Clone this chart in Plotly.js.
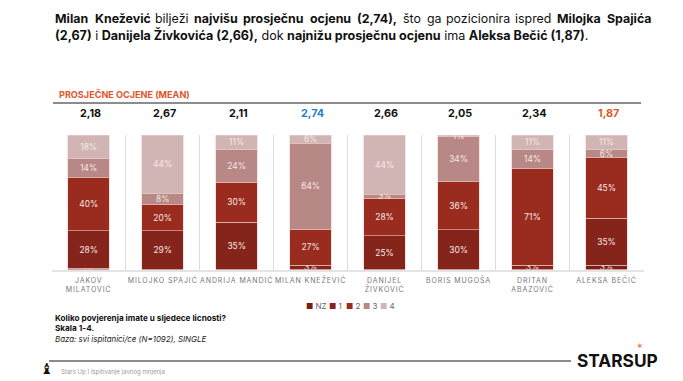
<!DOCTYPE html>
<html><head><meta charset="utf-8">
<script src="https://cdn.plot.ly/plotly-3.0.1.min.js"></script>
<style>
html,body{margin:0;padding:0;background:#fff;overflow:hidden}
.xtick text{letter-spacing:0.9px}
</style></head><body><div id="chart" style="width:683px;height:381px"></div>
<script>
const categories=["JAKOV<br>MILATOVIĆ","MILOJKO SPAJIĆ","ANDRIJA MANDIĆ","MILAN KNEŽEVIĆ","DANIJEL<br>ŽIVKOVIĆ","BORIS MUGOŠA","DRITAN<br>ABAZOVIĆ","ALEKSA BEČIĆ"];
const means=["2,18","2,67","2,11","2,74","2,66","2,05","2,34","1,87"];
const meanColors=["#111","#111","#111","#1f7fc9","#111","#111","#111","#e0552b"];
const seriesNames=["NZ","1","2","3","4"];
const nz=[1,0,0,0,0,0,0,3];
const s1=[28,29,35,3,25,30,3,35];
const s2=[40,20,30,27,28,36,71,45];
const s3=[14,8,24,64,3,34,14,6];
const s4=[18,44,11,6,44,1,11,11];
const colors=["#7a1f15","#85241a","#9a2c1f","#b78885","#d1b5b4"];
const W=683,H=381;
const fx=x=>x/W, fy=y=>1-y/H;
const F="Inter, Roboto, sans-serif";
const keys=categories.map((_,i)=>"c"+i);
const traces=[nz,s1,s2,s3,s4].map((v,i)=>({
  type:"bar",name:seriesNames[i],x:keys,y:v,
  marker:{color:colors[i],line:{color:"rgba(240,205,200,0.55)",width:1}},
  text:v.map(d=>d>0?d+"%":""),textposition:"inside",textangle:0,constraintext:"none",
  insidetextanchor:"middle",insidetextfont:{family:F,size:8.4,color:"#f5e9e6"},
  hoverinfo:"skip"
}));
const ann=[];
function t(x,y,text,size,color,anchor,extra){ann.push(Object.assign({xref:"paper",yref:"paper",x:fx(anchor==="center"?x:x-2),y:fy(y),text,showarrow:false,xanchor:anchor||"left",yanchor:"middle",font:{family:F,size,color}},extra||{}));}
const headWords=[[55,"<b>Milan</b>"],[95,"<b>Knežević</b>"],[155,"bilježi"],[194,"<b>najvišu</b>"],[243,"<b>prosječnu</b>"],[310,"<b>ocjenu</b>"],[357,"<b>(2,74),</b>"],[403,"što"],[427,"ga"],[446,"pozicionira"],[515,"ispred"],[557,"<b>Milojka</b>"],[607,"<b>Spajića</b>"]];
headWords.forEach(w=>t(w[0],18,w[1],12.4,"#111"));
t(55,34.5,"<b>(2,67)</b> i <b>Danijela Živkovića (2,66),</b> dok <b>najnižu prosječnu ocjenu</b> ima <b>Aleksa Bečić (1,87)</b>.",12.55,"#111");
t(59,94.5,"<b>PROSJEČNE OCJENE (MEAN)</b>",9.1,"#e0552b");
means.forEach((m,i)=>t(51.7+74*(i+0.5)+1.3,113.5,"<b>"+m+"</b>",10.8,meanColors[i],"center"));
const legendX=[306,329,346,363,380];
seriesNames.forEach((n,i)=>t(legendX[i],306,'<span style="color:'+colors[i]+'">■</span> '+n,8,"#666"));
t(55,317.5,"<b>Koliko povjerenja imate u sljedece licnosti?</b>",8.2,"#111");
t(55,328,"<b>Skala 1-4.</b>",8.2,"#111");
t(55,338.5,"<i>Baza: svi ispitanici/ce (N=1092), SINGLE</i>",7.9,"#222");
t(60.5,371.5,"Stars Up I Ispitivanje javnog mnjenja",6.1,"#9a9a9a");
t(577,360,"<b>STARSUP</b>",17.3,"#111");
t(640,345,"✶",9,"#ee7a3a","center");
t(46.5,368,"♝",15,"#111","center");
const layout={
  width:W,height:H,margin:{l:0,r:0,t:0,b:0},paper_bgcolor:"#fff",plot_bgcolor:"#fff",
  barmode:"stack",barnorm:"percent",bargap:0.44,showlegend:false,
  font:{family:F},
  xaxis:{domain:[fx(51.7),fx(643.5)],type:"category",tickmode:"array",tickvals:keys,ticktext:categories,tickson:"boundaries",ticks:"",showgrid:true,gridcolor:"#dcdcdc",gridwidth:1,
    showline:true,linecolor:"#e4e4e4",linewidth:2,tickfont:{family:F,size:7,color:"#777"},fixedrange:true,automargin:false,tickangle:0,ticklabelstandoff:3},
  yaxis:{domain:[fy(269.5),fy(135)],range:[0,100],showgrid:false,zeroline:false,showticklabels:false,ticks:"",fixedrange:true,automargin:false},
  annotations:ann,
  shapes:[
    {type:"line",xref:"paper",yref:"paper",x0:fx(53),x1:fx(641),y0:fy(103),y1:fy(103),line:{color:"#666",width:1.5}},
    {type:"line",xref:"paper",yref:"paper",x0:fx(49),x1:fx(571),y0:fy(361),y1:fy(361),line:{color:"#666",width:1.5}}
  ]
};
Plotly.newPlot("chart",traces,layout,{displayModeBar:false});
</script></body></html>
